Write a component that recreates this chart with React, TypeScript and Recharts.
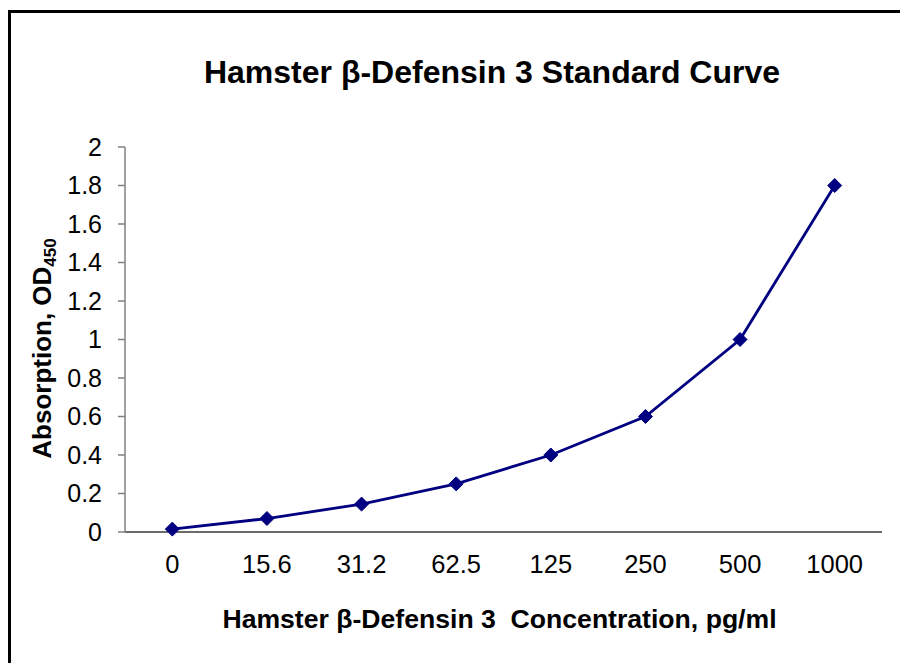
import React from 'react';
import { LineChart, Line, XAxis, YAxis, Label } from 'recharts';

const categories = ['0', '15.6', '31.2', '62.5', '125', '250', '500', '1000'];
const absorbance = [0.015, 0.07, 0.145, 0.25, 0.4, 0.6, 1.0, 1.8];
const yTicks = [0, 0.2, 0.4, 0.6, 0.8, 1, 1.2, 1.4, 1.6, 1.8, 2];
const catIndex = [0, 1, 2, 3, 4, 5, 6, 7];
const boundaryTicks = [-0.5, 0.5, 1.5, 2.5, 3.5, 4.5, 5.5, 6.5, 7.5];

const data = categories.map((c, i) => ({ idx: catIndex[i], conc: c, od: absorbance[i] }));

const FONT = 'Liberation Sans, Arial, sans-serif';
const NAVY = '#000080';

const Diamond = (props: any) => {
  const { cx, cy } = props;
  if (cx == null || cy == null) return null;
  const r = 7;
  return (
    <polygon
      points={`${cx},${cy - r} ${cx + r},${cy} ${cx},${cy + r} ${cx - r},${cy}`}
      fill={NAVY}
      stroke={NAVY}
      strokeWidth={1}
    />
  );
};

const YTitle = (props: any) => {
  const vb = props.viewBox || {};
  const cx = 51;
  const cy = (vb.y ?? 147) + (vb.height ?? 385) / 2 + 9;
  return (
    <text
      x={cx}
      y={cy}
      textAnchor="middle"
      transform={`rotate(-90, ${cx}, ${cy})`}
      fontFamily={FONT}
      fontWeight="bold"
      fontSize={26}
      fill="#000"
    >
      Absorption, OD
      <tspan fontSize={17} dy={5}>450</tspan>
    </text>
  );
};

const XTitle = (props: any) => {
  const vb = props.viewBox || {};
  const cx = (vb.x ?? 125) + (vb.width ?? 757) / 2 - 4;
  return (
    <text
      x={cx}
      y={628}
      textAnchor="middle"
      fontFamily={FONT}
      fontWeight="bold"
      fontSize={26.6}
      fill="#000"
      style={{ whiteSpace: 'pre' }}
    >
      {'Hamster \u03B2-Defensin 3  Concentration, pg/ml'}
    </text>
  );
};

export default function App() {
  return (
    <div style={{ position: 'absolute', left: 0, top: 0, width: 900, height: 663, overflow: 'hidden', background: '#fff' }}>
      <div
        style={{
          position: 'absolute',
          left: 8,
          top: 10,
          width: 950,
          height: 700,
          border: '3px solid #000',
          boxSizing: 'border-box',
        }}
      />
      <div
        style={{
          position: 'absolute',
          left: 0,
          top: 52,
          width: 984,
          textAlign: 'center',
          fontFamily: FONT,
          fontWeight: 'bold',
          fontSize: 32,
          lineHeight: '40px',
          color: '#000',
        }}
      >
        {'Hamster \u03B2-Defensin 3 Standard Curve'}
      </div>
      <div style={{ position: 'absolute', left: 0, top: 0 }}>
        <LineChart
          width={900}
          height={663}
          data={data}
          margin={{ top: 147, right: 18, bottom: 129, left: 124 }}
        >
          <XAxis
            xAxisId="frame"
            dataKey="idx"
            type="number"
            domain={[-0.5, 7.5]}
            ticks={boundaryTicks}
            tick={false}
            tickLine={{ stroke: '#3a3a3a', strokeWidth: 1.5 }}
            axisLine={{ stroke: '#3a3a3a', strokeWidth: 1.5 }}
            tickSize={7}
            height={1}
            interval={0}
          >
            <Label content={<XTitle />} />
          </XAxis>
          <XAxis
            xAxisId="lab"
            dataKey="idx"
            type="number"
            domain={[-0.5, 7.5]}
            ticks={catIndex}
            tickFormatter={(v: number) => categories[v] ?? ''}
            tickLine={false}
            axisLine={false}
            tickSize={7}
            tickMargin={15}
            height={1}
            interval={0}
            tick={{ fontFamily: FONT, fontSize: 25.5, fill: '#000' }}
          />
          <YAxis
            domain={[0, 2]}
            ticks={yTicks}
            interval={0}
            width={1}
            tickSize={7}
            tickMargin={16}
            tickFormatter={(v: number) => String(v)}
            axisLine={{ stroke: '#808080', strokeWidth: 1.5 }}
            tickLine={{ stroke: '#808080', strokeWidth: 1.5 }}
            tick={{ fontFamily: FONT, fontSize: 25, fill: '#000' }}
          >
            <Label content={<YTitle />} />
          </YAxis>
          <Line
            xAxisId="lab"
            dataKey="od"
            type="linear"
            stroke={NAVY}
            strokeWidth={2.8}
            dot={<Diamond />}
            activeDot={false}
            isAnimationActive={false}
          />
        </LineChart>
      </div>
    </div>
  );
}
